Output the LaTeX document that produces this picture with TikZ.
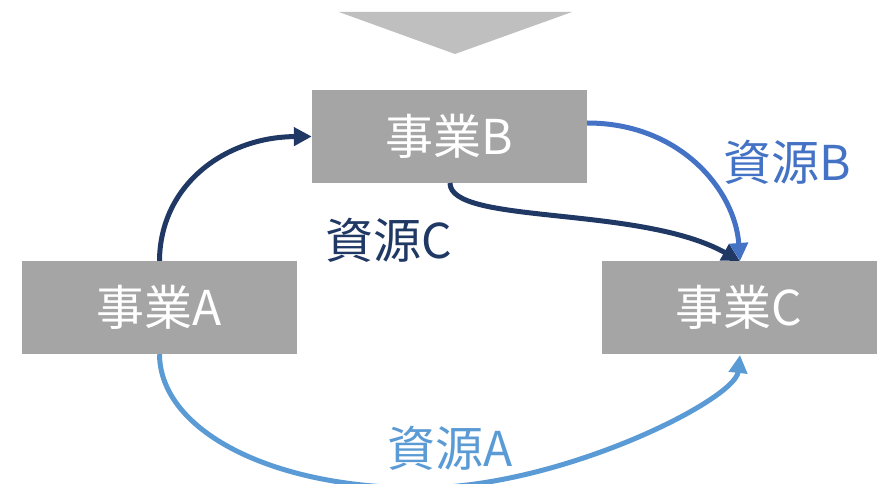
\documentclass[tikz,border=0pt]{standalone}
\usepackage{fontspec}
\setmainfont{Noto Sans CJK JP}
\usetikzlibrary{arrows.meta}
\definecolor{boxgray}{HTML}{A5A5A5}
\definecolor{trigray}{HTML}{BFBFBF}
\definecolor{navy}{HTML}{203864}
\definecolor{midblue}{HTML}{4472C4}
\definecolor{lightblue}{HTML}{5B9BD5}
\tikzset{
  bizbox/.style={fill=boxgray, draw=none, minimum width=275pt, minimum height=93pt, inner sep=0pt, text=white, font=\fontsize{48}{52}\selectfont},
  reslabel/.style={font=\fontsize{48}{52}\selectfont, inner sep=0pt},
  flow/.style={line width=5pt, -{Triangle[length=18pt,width=18pt]}}
}
\begin{document}
\begin{tikzpicture}[x=1pt,y=-1pt]
\useasboundingbox (0,0) rectangle (887,484);
\fill[trigray] (339,12) -- (572,12) -- (455,54) -- cycle;
\node[bizbox] (B) at (449.5,136.5) {事業B};
\node[bizbox] (A) at (159.5,307.5) {事業A};
\node[bizbox] (C) at (739,307.5) {事業C};
\coordinate (Ctop) at (740,261);
\coordinate (Cbot) at (740,355);
\coordinate (low) at (420,488);
\draw[flow, navy] (A.north) .. controls (160,185) and (225,137) .. (B.west);
\draw[flow, navy] (450,183) .. controls (450,225) and (640,205) .. (Ctop);
\draw[flow, midblue] (B.east |- 0,123) .. controls (680,123) and (735,190) .. (Ctop);
\draw[flow, lightblue] (A.south) .. controls (160,430) and (270,488) .. (low)
  .. controls (560,488) and (735,400) .. (Cbot);
\node[reslabel, text=midblue] (lb) at (787,162) {資源B};
\node[reslabel, text=navy] (lc) at (389,240) {資源C};
\node[reslabel, text=lightblue] (la) at (450,448) {資源A};
\end{tikzpicture}
\end{document}
